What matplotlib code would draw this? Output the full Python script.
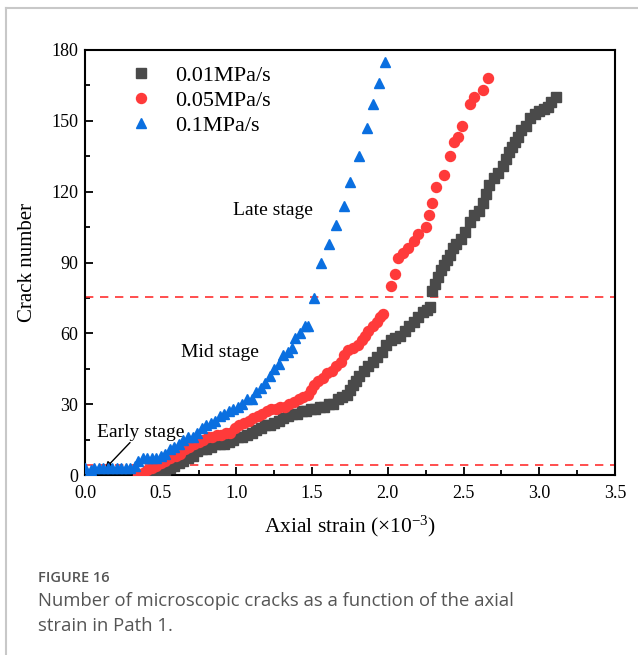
import matplotlib
matplotlib.use("Agg")
import matplotlib.pyplot as plt
from matplotlib.lines import Line2D
from matplotlib.ticker import MultipleLocator

# ---------------- data ----------------
labels = ["0.01MPa/s", "0.05MPa/s", "0.1MPa/s"]

gray_x = [0.44, 0.47, 0.50, 0.53, 0.56, 0.59, 0.62, 0.65, 0.68, 0.71, 0.74, 0.77, 0.80, 0.83,
          0.86, 0.89, 0.92, 0.95, 0.98, 1.01, 1.04, 1.07, 1.10, 1.13, 1.16, 1.19, 1.22, 1.25,
          1.28, 1.31, 1.34, 1.37, 1.40, 1.43, 1.46, 1.49, 1.52, 1.55, 1.58, 1.61, 1.64, 1.67,
          1.70, 1.73, 1.75, 1.77, 1.79, 1.81, 1.84, 1.87, 1.90, 1.93, 1.96, 1.99, 2.02, 2.05,
          2.08, 2.11, 2.14, 2.17, 2.20, 2.23, 2.26, 2.28, 2.29, 2.31, 2.33, 2.35, 2.37, 2.39,
          2.41, 2.43, 2.45, 2.48, 2.51, 2.54, 2.57, 2.60, 2.63, 2.65, 2.67, 2.70, 2.73, 2.76,
          2.78, 2.80, 2.82, 2.84, 2.86, 2.88, 2.91, 2.94, 2.97, 3.00, 3.03, 3.06, 3.08, 3.11]
gray_y = [0, 1, 1, 2, 3, 4, 5, 6, 7, 8, 10, 11, 11, 12,
          13, 13, 13, 14, 15, 16, 16, 17, 18, 19, 20, 21, 21, 22,
          23, 24, 25, 26, 26, 27, 27, 28, 28, 29, 29, 30, 30, 32,
          33, 34, 36, 38, 40, 42, 44, 46, 48, 50, 52, 55, 57, 58,
          59, 61, 63, 65, 67, 69, 70, 71, 78, 81, 84, 87, 89, 91,
          93, 96, 98, 100, 103, 107, 110, 112, 115, 119, 123, 126, 128, 131,
          134, 137, 139, 141, 143, 146, 148, 151, 153, 154, 155, 156, 158, 160]

red_x = [0.35, 0.38, 0.41, 0.44, 0.47, 0.50, 0.53, 0.56, 0.60, 0.63, 0.66, 0.69, 0.72, 0.75,
         0.78, 0.81, 0.84, 0.87, 0.90, 0.93, 0.96, 0.99, 1.02, 1.05, 1.08, 1.11, 1.14, 1.17,
         1.20, 1.23, 1.26, 1.29, 1.32, 1.35, 1.38, 1.41, 1.44, 1.47, 1.49, 1.51, 1.54, 1.57,
         1.60, 1.63, 1.66, 1.69, 1.71, 1.74, 1.77, 1.80, 1.83, 1.85, 1.87, 1.90, 1.93, 1.95,
         1.97, 2.02, 2.05, 2.07, 2.10, 2.13, 2.17, 2.20, 2.25, 2.27, 2.29, 2.32, 2.37, 2.41,
         2.44, 2.46, 2.49, 2.54, 2.57, 2.63, 2.66]
red_y = [0, 1, 2, 3, 4, 5, 6, 7, 8, 9, 11, 12, 13, 14,
         15, 16, 16, 17, 17, 18, 18, 20, 21, 22, 23, 24, 25, 26,
         27, 28, 28, 29, 29, 30, 31, 32, 33, 34, 36, 38, 40, 41,
         43, 44, 46, 48, 51, 53, 54, 55, 57, 59, 61, 63, 65, 67,
         68, 80, 85, 92, 94, 96, 99, 102, 105, 110, 115, 122, 127, 135,
         141, 143, 148, 157, 160, 163, 168]

blue_x = [0.00, 0.02, 0.04, 0.06, 0.09, 0.12, 0.15, 0.18, 0.21, 0.24, 0.27, 0.30, 0.33, 0.35,
          0.38, 0.41, 0.44, 0.47, 0.50, 0.53, 0.56, 0.59, 0.62, 0.65, 0.68, 0.71, 0.74, 0.77,
          0.80, 0.83, 0.86, 0.89, 0.92, 0.95, 0.98, 1.01, 1.04, 1.07, 1.10, 1.13, 1.16, 1.19,
          1.22, 1.25, 1.28, 1.31, 1.34, 1.37, 1.39, 1.42, 1.45, 1.47, 1.51, 1.56, 1.61, 1.66,
          1.71, 1.75, 1.81, 1.86, 1.90, 1.94, 1.98]
blue_y = [3, 0, 2, 3, 3, 3, 3, 3, 3, 3, 3, 3, 4, 6,
          7, 7, 7, 7, 8, 9, 11, 12, 13, 15, 16, 16, 18, 20,
          21, 22, 23, 25, 26, 27, 28, 29, 30, 32, 32, 35, 37, 39,
          42, 45, 47, 51, 52, 54, 58, 60, 63, 63, 75, 90, 98, 106,
          114, 124, 135, 147, 157, 166, 175]

stage_lines = [4.2, 75.3]
stage_texts = ["Early stage", "Mid stage", "Late stage"]
x_ticks = [0.0, 0.5, 1.0, 1.5, 2.0, 2.5, 3.0, 3.5]
y_ticks = [0, 30, 60, 90, 120, 150, 180]

# ---------------- figure ----------------
serif = "Liberation Serif"
plt.rcParams["mathtext.fontset"] = "custom"
plt.rcParams["mathtext.rm"] = serif
plt.rcParams["mathtext.it"] = serif + ":italic"
plt.rcParams["mathtext.default"] = "regular"

fig = plt.figure(figsize=(6.38, 6.55), dpi=100)
ax = fig.add_axes([85 / 638, 1 - 475 / 655, 530 / 638, 425 / 655])

c_gray, c_red, c_blue = "#4a4a4a", "#ff3a3a", "#0a6fe0"
ax.plot(gray_x, gray_y, ls="none", marker="s", ms=6.8, color=c_gray, label=labels[0], zorder=3)
ax.plot(red_x, red_y, ls="none", marker="o", ms=7.2, color=c_red, label=labels[1], zorder=4)
ax.plot(blue_x, blue_y, ls="none", marker="^", ms=7.8, color=c_blue, label=labels[2], zorder=5)

for yv in stage_lines:
    ax.axhline(yv, color="#ff3030", lw=1.2, ls=(0, (5, 4)), zorder=2)

ax.set_xlim(0, 3.5)
ax.set_ylim(0, 180)
ax.set_xticks(x_ticks)
ax.set_yticks(y_ticks)
ax.set_xticklabels([f"{v:.1f}" for v in x_ticks])
ax.set_yticklabels([str(v) for v in y_ticks])
ax.xaxis.set_minor_locator(MultipleLocator(0.25))
ax.yaxis.set_minor_locator(MultipleLocator(15))
ax.tick_params(which="both", direction="in", top=False, right=False, width=1.3)
ax.tick_params(which="major", length=6, labelsize=13, pad=5)
ax.tick_params(axis="x", which="major", pad=7)
ax.tick_params(which="minor", length=3.5)
for lab in ax.get_xticklabels() + ax.get_yticklabels():
    lab.set_fontfamily(serif)
for sp in ax.spines.values():
    sp.set_linewidth(1.5)

ax.set_xlabel("Axial strain (×10$^{-3}$)", fontfamily=serif, fontsize=15.5, labelpad=9)
ax.set_ylabel("Crack number", fontfamily=serif, fontsize=15, labelpad=10)

leg = ax.legend(loc="upper left", frameon=False, prop={"family": serif, "size": 16},
                handletextpad=0.5, labelspacing=0.2, borderaxespad=0.3,
                bbox_to_anchor=(0.035, 1.0))

ax.text(0.37, 17.8, stage_texts[0], fontfamily=serif, fontsize=14, ha="center", va="center")
ax.annotate("", xy=(0.12, 1.8), xytext=(0.31, 14.6),
            arrowprops=dict(arrowstyle="-|>", color="black", lw=1.0, mutation_scale=10))
ax.text(0.89, 51.7, stage_texts[1], fontfamily=serif, fontsize=14, ha="center", va="center")
ax.text(1.24, 112.2, stage_texts[2], fontfamily=serif, fontsize=14, ha="center", va="center")

# page border
fig.add_artist(Line2D([6 / 638, 1.0], [1 - 8 / 655, 1 - 8 / 655], transform=fig.transFigure,
                      color="#c8c8c8", lw=1.5))
fig.add_artist(Line2D([6 / 638, 6 / 638], [0, 1 - 8 / 655], transform=fig.transFigure,
                      color="#c8c8c8", lw=1.5))

# caption
fig.text(38 / 638, 1 - 578 / 655, "FIGURE 16", fontfamily="Open Sans", fontsize=10.5,
         color="#555555", va="center", ha="left", fontweight="semibold")
fig.text(38 / 638, 1 - 601 / 655, "Number of microscopic cracks as a function of the axial",
         fontfamily="Open Sans", fontsize=13.3, color="#555555", va="center", ha="left")
fig.text(38 / 638, 1 - 626 / 655, "strain in Path 1.",
         fontfamily="Open Sans", fontsize=13.3, color="#555555", va="center", ha="left")

fig.savefig("out.png", dpi=100)
